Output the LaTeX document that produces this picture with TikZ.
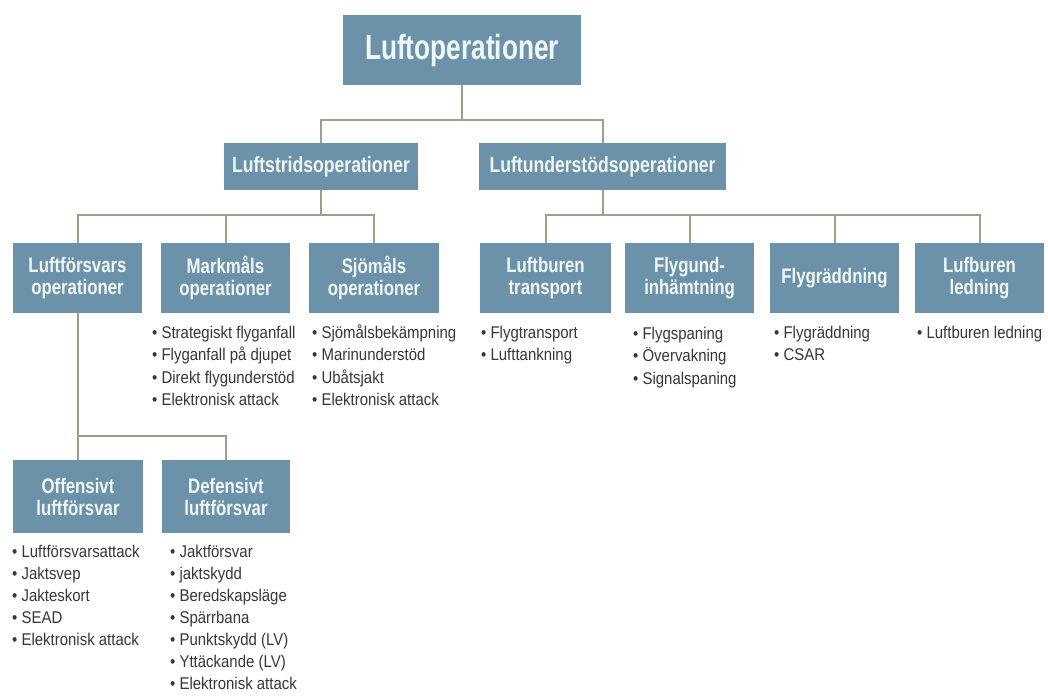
\documentclass[tikz,border=0pt]{standalone}
\usepackage{fontspec}
\newfontfamily\boxfont{Liberation Sans}[FakeStretch=0.8]
\newfontfamily\titlefont{Liberation Sans}[FakeStretch=0.75]
\newfontfamily\listfont{Liberation Sans}[FakeStretch=0.88]
\definecolor{boxblue}{RGB}{108,146,170}
\definecolor{boxtext}{RGB}{240,247,250}
\definecolor{linecol}{RGB}{163,156,138}
\definecolor{listtext}{RGB}{55,55,55}
\tikzset{
  box/.style={fill=boxblue, text=boxtext, inner sep=0pt, align=center},
  topbox/.style={box, font=\titlefont\bfseries\fontsize{35}{40}\selectfont},
  midbox/.style={box, font=\boxfont\bfseries\fontsize{22}{24}\selectfont},
  lowbox/.style={box, font=\boxfont\bfseries\fontsize{21}{22}\selectfont},
  item/.style={anchor=base west, inner sep=0pt, text=listtext, font=\listfont\fontsize{17}{20}\selectfont},
  conn/.style={draw=linecol, line width=2pt}
}
\begin{document}
\begin{tikzpicture}[x=1pt,y=-1pt]
\fill[white] (0,0) rectangle (1048,696);
\useasboundingbox (0,0) rectangle (1048,696);

% level 1
\node[topbox, minimum width=238pt, minimum height=70pt] (top) at (462,50) {Luftoperationer};
% level 2
\node[midbox, minimum width=194pt, minimum height=47pt] (s1) at (321,166.5) {Luftstridsoperationer};
\node[midbox, minimum width=247pt, minimum height=47pt] (s2) at (602.5,166.5) {Luftunderstödsoperationer};
% level 3
\node[lowbox, minimum width=129pt, minimum height=70pt] (lf) at (77.5,278) {Luftförsvars\\operationer};
\node[lowbox, minimum width=129pt, minimum height=70pt] (mm) at (225.5,278) {Markmåls\\operationer};
\node[lowbox, minimum width=130pt, minimum height=70pt] (sj) at (374,278) {Sjömåls\\operationer};
\node[lowbox, minimum width=131pt, minimum height=70pt] (lt) at (545.5,278) {Luftburen\\transport};
\node[lowbox, minimum width=129pt, minimum height=70pt] (fi) at (689.5,278) {Flygund-\\inhämtning};
\node[lowbox, minimum width=129pt, minimum height=70pt] (fr) at (834.5,278) {Flygräddning};
\node[lowbox, minimum width=129pt, minimum height=70pt] (lb) at (979.5,278) {Lufburen\\ledning};
% level 4
\node[lowbox, minimum width=130pt, minimum height=73pt] (of) at (78,496.5) {Offensivt\\luftförsvar};
\node[lowbox, minimum width=128pt, minimum height=73pt] (de) at (226,496.5) {Defensivt\\luftförsvar};

% connectors
\draw[conn] (top.south) -- ++(0,35) -| (s1.north);
\draw[conn] (top.south) -- ++(0,35) -| (s2.north);
\foreach \n in {lf,mm,sj} \draw[conn] (s1.south) -- ++(0,25) -| (\n.north);
\foreach \n in {lt,fi,fr,lb} \draw[conn] (s2.south) -- ++(0,25) -| (\n.north);
\foreach \n in {of,de} \draw[conn] (lf.south) -- ++(0,123) -| (\n.north);

% lists
\foreach \t [count=\i from 0] in {Strategiskt flyganfall, Flyganfall på djupet, Direkt flygunderstöd, Elektronisk attack}
  \node[item] (mm-\i) at (152,{338+22.5*\i}) {• \t};
\foreach \t [count=\i from 0] in {Sjömålsbekämpning, Marinunderstöd, Ubåtsjakt, Elektronisk attack}
  \node[item] (sj-\i) at (312,{338+22.5*\i}) {• \t};
\foreach \t [count=\i from 0] in {Flygtransport, Lufttankning}
  \node[item] (lt-\i) at (481,{338+22.5*\i}) {• \t};
\foreach \t [count=\i from 0] in {Flygspaning, Övervakning, Signalspaning}
  \node[item] (fi-\i) at (633,{339+22.5*\i}) {• \t};
\foreach \t [count=\i from 0] in {Flygräddning, CSAR}
  \node[item] (fr-\i) at (774,{338+22.5*\i}) {• \t};
\node[item] (lb-0) at (917,338) {• Luftburen ledning};
\foreach \t [count=\i from 0] in {Luftförsvarsattack, Jaktsvep, Jakteskort, SEAD, Elektronisk attack}
  \node[item] (of-\i) at (12,{557+22*\i}) {• \t};
\foreach \t [count=\i from 0] in {Jaktförsvar, jaktskydd, Beredskapsläge, Spärrbana, Punktskydd (LV), Yttäckande (LV), Elektronisk attack}
  \node[item] (de-\i) at (170,{557+22*\i}) {• \t};
\end{tikzpicture}
\end{document}
